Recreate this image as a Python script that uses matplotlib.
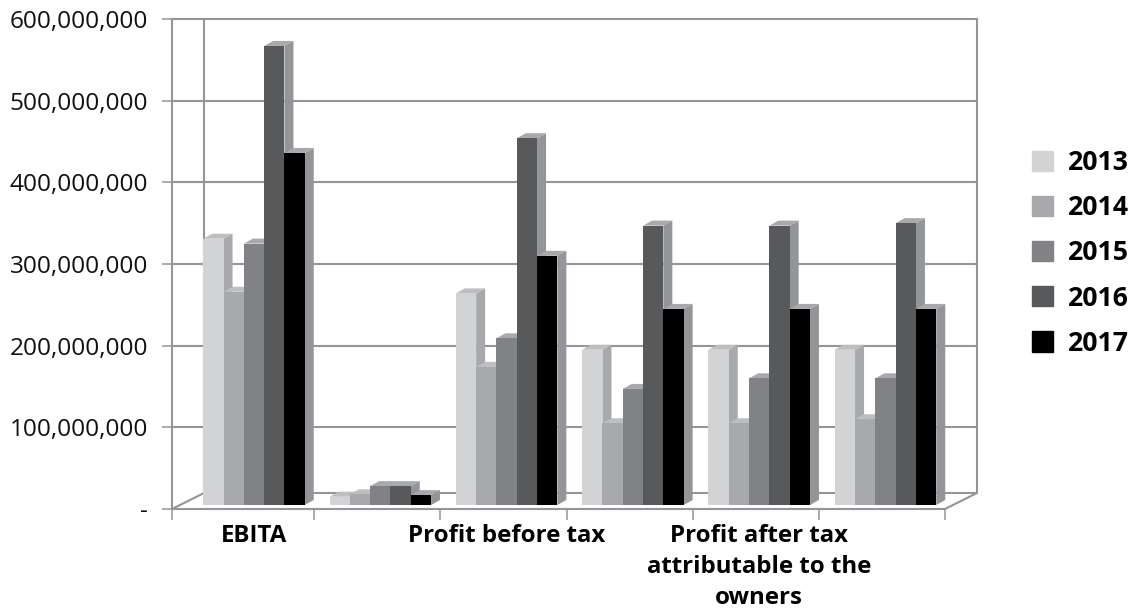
import matplotlib.pyplot as plt
from matplotlib.patches import Patch, Polygon

plt.rcParams['font.family'] = ['Open Sans', 'DejaVu Sans']

years = ['2013', '2014', '2015', '2016', '2017']
labels = ['EBITA', '', 'Profit before tax', '', 'Profit after tax\nattributable to the\nowners', '']
y2013 = [331, 15, 264, 195, 195, 195]
y2014 = [266, 18, 174, 105, 105, 110]
y2015 = [325, 28, 209, 147, 160, 160]
y2016 = [567, 28, 454, 347, 347, 350]
y2017 = [436, 17, 310, 245, 245, 245]
series = [y2013, y2014, y2015, y2016, y2017]

colors = ['#d1d3d4', '#a7a9ac', '#808285', '#58595b', '#000000']
sides = ['#a7a9ac', '#939598', '#939598', '#939598', '#939598']
tops = ['#bcbec0', '#bcbec0', '#a7a9ac', '#a7a9ac', '#a7a9ac']
grid = '#939598'

W, H = 1138, 613
fig = plt.figure(figsize=(W / 100, H / 100), dpi=100)
ax = fig.add_axes([172 / W, (H - 509) / H, (977 - 172) / W, (509 - 19) / H])

# pixels per unit, category step is 126.3 px, y axis is 0.8167 px per million
px_x = 1 / 126.3
px_y = 600 / 490
left = (172 - 254) * px_x
right = (945 - 254) * px_x
depth_x = 32 * px_x
depth_y = 16 * px_y
bar_w = 20.3 * px_x
bar_dx = 9 * px_x
bar_dy = 5 * px_y
base = 4 * px_y

ax.set_xlim(left, right + depth_x)
ax.set_ylim(0, 600)
for s in ax.spines.values():
    s.set_visible(False)

# walls and floor
ax.plot([left, left], [0, 600], color=grid, lw=1.5, clip_on=False, zorder=1)
ax.plot([left + depth_x] * 2, [depth_y, 600], color=grid, lw=1.5, clip_on=False, zorder=1)
ax.plot([right + depth_x] * 2, [depth_y, 600], color=grid, lw=1.5, clip_on=False, zorder=1)
ax.plot([left, right, right + depth_x, left + depth_x, left],
        [0, 0, depth_y, depth_y, 0], color=grid, lw=1.5, clip_on=False, zorder=1)

ax.set_yticks(range(0, 700, 100))
ax.set_yticklabels(['-'] + [f'{v:,}' for v in range(100000000, 700000000, 100000000)])
ax.tick_params(axis='y', length=7.2, width=1.1, color=grid, pad=10, labelsize=17.6, labelcolor='#111111')
ax.yaxis.grid(True, color=grid, lw=1.5, zorder=1)
ax.set_axisbelow(True)
for g in ax.get_ygridlines():
    g.set_clip_on(False)
ax.get_ygridlines()[0].set_visible(False)

boundaries = [left] + [i + 0.475 for i in range(5)] + [right]
ax.set_xticks(boundaries)
ax.set_xticklabels([])
ax.tick_params(axis='x', length=8, width=1.1, color=grid)
ax.set_xticks(range(6), labels=labels, minor=True)
ax.tick_params(axis='x', which='minor', length=0, pad=11, labelsize=17.3)
for t in ax.get_xticklabels(minor=True):
    t.set_fontweight('bold')
    t.set_linespacing(1.38)

# bars, left to right so the next front face covers the side of the one before
for j in range(5):
    for i, v in enumerate(series[j]):
        x0 = i + (j - 2.5) * bar_w
        x1 = x0 + bar_w
        z = 3 + j * 0.1 + (0.05 if i else 0)
        ax.add_patch(Polygon([(x1, base), (x1 + bar_dx, base + bar_dy),
                              (x1 + bar_dx, v + bar_dy), (x1, v)],
                             color=sides[j], lw=0, zorder=z))
        ax.add_patch(Polygon([(x0, v), (x1, v), (x1 + bar_dx, v + bar_dy),
                              (x0 + bar_dx, v + bar_dy)],
                             color=tops[j], lw=0, zorder=z))
    ax.bar([i + (j - 2) * bar_w for i in range(6)], [v - base for v in series[j]],
           bottom=base, width=bar_w, color=colors[j], zorder=3 + j * 0.1 + 0.06)

handles = [Patch(color=c, label=y) for c, y in zip(colors, years)]
leg = ax.legend(handles=handles, loc='upper left', bbox_to_anchor=(1032 / W, (H - 150) / H),
                bbox_transform=fig.transFigure, frameon=False, fontsize=19.2, handlelength=0.79,
                handleheight=0.79, handletextpad=0.57, labelspacing=0.72, borderpad=0, borderaxespad=0)
for t in leg.get_texts():
    t.set_fontweight('bold')

fig.savefig('out.png', dpi=100)
